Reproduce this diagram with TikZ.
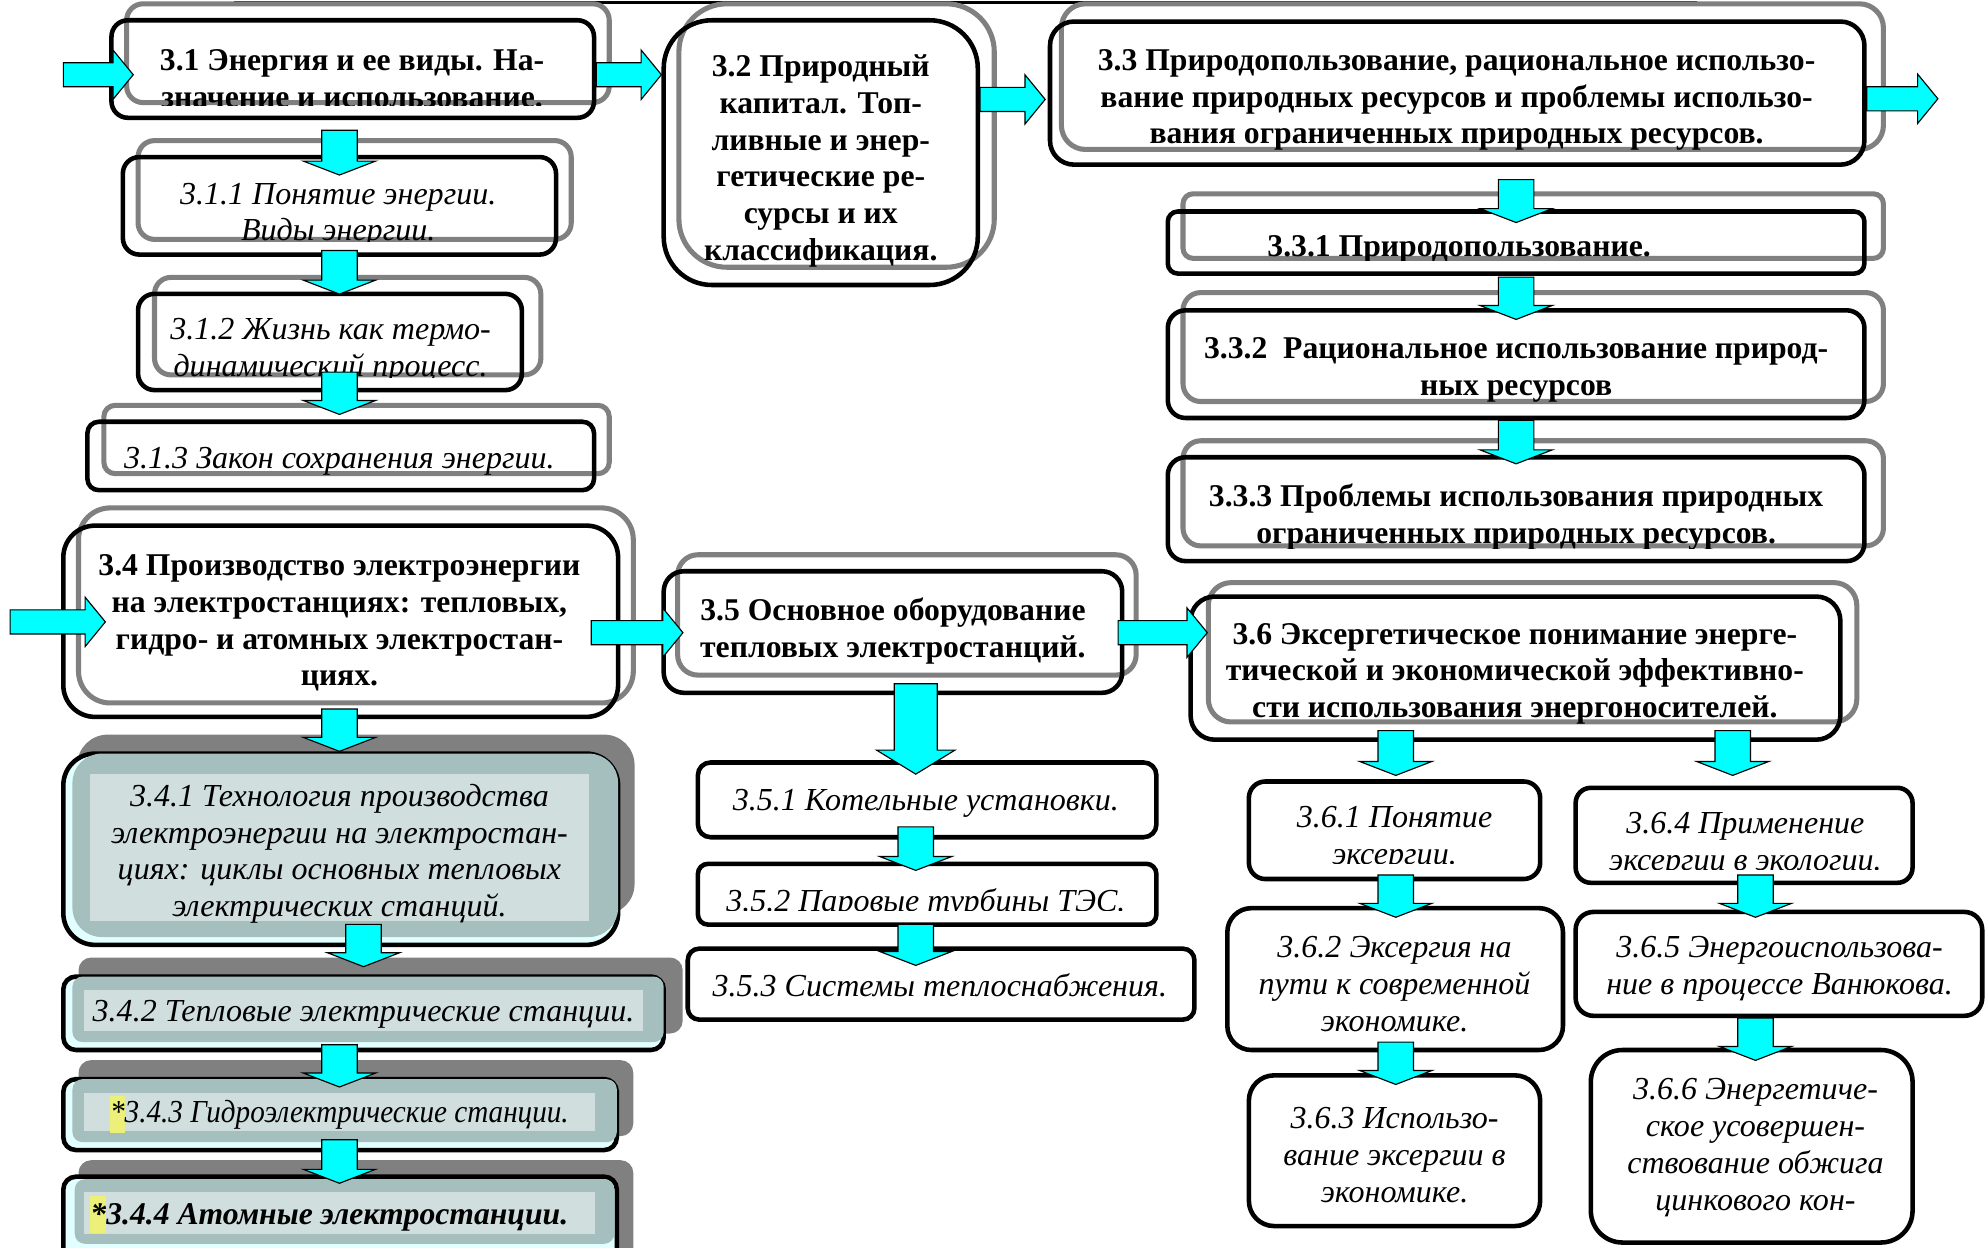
\documentclass[tikz,border=0pt]{standalone}
\usepackage{fontspec}
\setmainfont{Liberation Serif}
\usepackage{graphicx}
\usetikzlibrary{calc,fit}

\definecolor{frame}{RGB}{128,128,128}
\definecolor{arrowcyan}{RGB}{0,255,255}
\definecolor{shade}{RGB}{128,128,128}
\definecolor{tealfill}{RGB}{165,190,190}
\definecolor{panel}{RGB}{208,222,222}
\definecolor{paleblue}{RGB}{226,255,255}
\definecolor{marker}{RGB}{236,240,120}

\tikzset{
  bbox/.style={draw=black, line width=3.6pt, inner sep=0pt, rounded corners=#1},
  gframe/.style={draw=frame, line width=4pt, inner sep=0pt, rounded corners=#1},
  shadowbox/.style={fill=shade, inner sep=0pt, rounded corners=#1},
  headtext/.style={align=center, inner sep=0pt, yshift=-2pt, font=\fontsize{25}{29}\selectfont\bfseries},
  subtext/.style={align=center, inner sep=0pt, yshift=-2pt, font=\fontsize{25.3}{29}\selectfont\itshape},
  blockarrow/.style={fill=arrowcyan, draw=black, line width=0.9pt, line join=miter},
}

% highlighted asterisk in front of a heading
\newcommand\starmark[2]{{\setlength{\fboxsep}{0pt}\colorbox{marker}{\rule[-#1]{0pt}{#2}*}}}

% vertical block arrow: start, tip, half shaft, half head, head length
\newcommand\vblock[5]{%
  \filldraw[blockarrow] let \p1=(#1), \p2=(#2) in
    (\x1-#3,\y1) -- (\x1+#3,\y1) -- (\x1+#3,\y2+#5) -- (\x1+#4,\y2+#5)
    -- (\x1,\y2) -- (\x1-#4,\y2+#5) -- (\x1-#3,\y2+#5) -- cycle;}
% horizontal block arrow: start, tip, half shaft, half head, head length
\newcommand\hblock[5]{%
  \filldraw[blockarrow] let \p1=(#1), \p2=(#2) in
    (\x1,\y1+#3) -- (\x2-#5,\y1+#3) -- (\x2-#5,\y1+#4) -- (\x2,\y1)
    -- (\x2-#5,\y1-#4) -- (\x2-#5,\y1-#3) -- (\x1,\y1-#3) -- cycle;}
\newcommand\flowdown[2]{\vblock{#1}{#2}{14pt}{28.5pt}{11pt}}
\newcommand\flowright[2]{\hblock{#1}{#2}{9.5pt}{19.5pt}{16pt}}

\begin{document}
\begin{tikzpicture}[x=1pt,y=-1pt]
\clip (0,0) rectangle (1568,985);
\fill[white] (0,0) rectangle (1568,985);

% rule along the upper edge
\fill[black] (185,0.5) rectangle (1340,3.2);

% ---- grey text frames ----
\node[gframe=13pt, fit={(100,3) (481,81)}] (g31) {};
\node[gframe=13pt, fit={(109,111) (451,189)}] (g311) {};
\node[gframe=13pt, fit={(122,219) (427,296)}] (g312) {};
\node[gframe=9pt, fit={(82,320) (481,374)}] (g313) {};
\node[gframe=38pt, fit={(536,3) (785,211)}] (g32) {};
\node[gframe=19pt, fit={(838,3) (1487,118)}] (g33) {};
\node[gframe=8pt, fit={(934,153) (1487,204)}] (g331) {};
\node[gframe=14pt, fit={(934,231) (1487,317)}] (g332) {};
\node[gframe=14pt, fit={(934,348) (1487,431)}] (g333) {};
\node[gframe=25pt, fit={(62,401) (500,555)}] (g34) {};
\node[gframe=16pt, fit={(535,438) (897,533)}] (g35) {};
\node[gframe=18pt, fit={(954,460) (1466,570)}] (g36) {};

% ---- black boxes ----
\node[bbox=13pt, fit={(88,16) (469,93)}] (b31) {};
\node[bbox=13pt, fit={(97,124) (439,201)}] (b311) {};
\node[bbox=13pt, fit={(109,232) (412,308)}] (b312) {};
\node[bbox=9pt, fit={(69,333) (469,387)}] (b313) {};
\node[bbox=38pt, fit={(524,16) (772,225)}] (b32) {};
\node[bbox=19pt, fit={(829,17) (1472,130)}] (b33) {};
\node[bbox=8pt, fit={(922,167) (1472,216)}] (b331) {};
\node[bbox=14pt, fit={(922,245) (1472,330)}] (b332) {};
\node[bbox=14pt, fit={(922,361) (1472,443)}] (b333) {};
\node[bbox=25pt, fit={(50,415) (488,566)}] (b34) {};
\node[bbox=16pt, fit={(524,451) (886,547)}] (b35) {};
\node[bbox=19pt, fit={(940,471) (1453,584)}] (b36) {};
\node[bbox=10pt, fit={(551,602) (913,661)}] (b351) {};
\node[bbox=8pt, fit={(551,682) (913,730)}] (b352) {};
\node[bbox=9pt, fit={(543,749) (943,805)}] (b353) {};
\node[bbox=13pt, fit={(986,617) (1216,694)}] (b361) {};
\node[bbox=19pt, fit={(969,717) (1234,829)}] (b362) {};
\node[bbox=20pt, fit={(986,849) (1216,968)}] (b363) {};
\node[bbox=12pt, fit={(1244,622) (1510,697)}] (b364) {};
\node[bbox=14pt, fit={(1244,720) (1565,802)}] (b365) {};
\node[bbox=25pt, fit={(1256,829) (1510,981)}] (b366) {};

% ---- shaded boxes of 3.4 ----
\node[shadowbox=24pt, fit={(61,580) (501,722)}] (s341) {};
\node[bbox=25pt, fill=paleblue, fit={(50,595) (488,746)}] (b341) {};
\fill[tealfill, rounded corners=23pt] ([shift={(9,1.8)}]b341.north west) rectangle ([shift={(-1.8,-8)}]b341.south east);
\fill[panel] (71,611) rectangle (465,727);

\node[shadowbox=10pt, fit={(62,756) (539,816)}] (s342) {};
\node[bbox=10pt, fill=paleblue, fit={(50,771) (524,829)}] (b342) {};
\fill[tealfill, rounded corners=8pt] ([shift={(9,1.8)}]b342.north west) rectangle ([shift={(-1.8,-8)}]b342.south east);
\fill[panel] (66,782) rectangle (508,814);

\node[shadowbox=10pt, fit={(62,837) (500,897)}] (s343) {};
\node[bbox=10pt, fill=paleblue, fit={(50,852) (487,908)}] (b343) {};
\fill[tealfill, rounded corners=8pt] ([shift={(9,1.8)}]b343.north west) rectangle ([shift={(-1.8,-8)}]b343.south east);
\fill[panel] (66,863) rectangle (470,893);

\node[shadowbox=10pt, fit={(62,916) (500,995)}] (s344) {};
\node[bbox=10pt, fill=paleblue, fit={(50,929) (487,1000)}] (b344) {};
\fill[tealfill, rounded corners=8pt] (59,931) rectangle (485,982);
\fill[panel] (66,941) rectangle (470,974);

% ---- texts ----
\begin{scope}
  \clip (g31.south west) rectangle (g31.north east);
  \node[headtext] (t31) at (278,60) {3.1 Энергия и ее виды. На-\\значение и использование.};
\end{scope}
\begin{scope}
  \clip (g311.south west) rectangle (g311.north east);
  \node[subtext] (t311) at (267,168) {3.1.1 Понятие энергии.\\Виды энергии.};
\end{scope}
\begin{scope}
  \clip (g312.south west) rectangle (g312.north east);
  \node[subtext] (t312) at (261,275) {3.1.2 Жизнь как термо-\\динамический процесс.};
\end{scope}
\node[subtext] (t313) at (268,362) {3.1.3 Закон сохранения энергии.};
\node[headtext] (t32) at (648,125) {3.2 Природный\\капитал. Топ-\\ливные и энер-\\гетические ре-\\сурсы и их\\классификация.};
\begin{scope}
  \clip (g33.south west) rectangle (g33.north east);
  \node[headtext] (t33) at (1150,77) {3.3 Природопользование, рациональное использо-\\вание природных ресурсов и проблемы использо-\\вания ограниченных природных ресурсов.};
\end{scope}
\begin{scope}
  \clip (g331.south west) rectangle (g331.north east);
  \node[headtext] (t331) at (1152,195) {3.3.1 Природопользование.};
\end{scope}
\node[headtext] (t332) at (1197,290) {3.3.2\ \ Рациональное использование природ-\\ных ресурсов};
\begin{scope}
  \clip (g333.south west) rectangle (g333.north east);
  \node[headtext] (t333) at (1197,406) {3.3.3 Проблемы использования природных\\ограниченных природных ресурсов.};
\end{scope}
\node[headtext] (t34) at (268,490) {3.4 Производство электроэнергии\\на электростанциях: тепловых,\\гидро- и атомных электростан-\\циях.};
\node[subtext] (t341) at (268,672) {3.4.1 Технология производства\\электроэнергии на электростан-\\циях: циклы основных тепловых\\электрических станций.};
\node[subtext] (t342) at (287,799) {3.4.2 Тепловые электрические станции.};
\node[subtext] (t343) at (268,878) {\scalebox{0.91}[1]{\starmark{8.5pt}{29pt}3.4.3 Гидроэлектрические станции.}};
\node[subtext, font=\fontsize{25}{29}\selectfont\bfseries\itshape] (t344) at (260,957) {\starmark{7pt}{29pt}3.4.4 Атомные электростанции.};
\node[headtext] (t35) at (705,496) {3.5 Основное оборудование\\тепловых электростанций.};
\node[subtext] (t351) at (731,632) {3.5.1 Котельные установки.};
\begin{scope}
  \clip (b352.north west) rectangle ([shift={(0,-13)}]b352.south east);
  \node[subtext] (t352) at (731,711) {3.5.2 Паровые турбины ТЭС.};
\end{scope}
\node[subtext] (t353) at (742,776) {3.5.3 Системы теплоснабжения.};
\node[headtext] (t36) at (1196,530) {3.6 Эксергетическое понимание энерге-\\тической и экономической эффективно-\\сти использования энергоносителей.};
\begin{scope}
  \clip (b361.north west) rectangle ([shift={(0,-14)}]b361.south east);
  \node[subtext] (t361) at (1101,660) {3.6.1 Понятие\\эксергии.};
\end{scope}
\node[subtext] (t362) at (1101,775) {3.6.2 Эксергия на\\пути к современной\\экономике.};
\node[subtext] (t363) at (1101,910) {3.6.3 Использо-\\вание эксергии в\\экономике.};
\begin{scope}
  \clip (b364.north west) rectangle ([shift={(0,-12)}]b364.south east);
  \node[subtext] (t364) at (1378,665) {3.6.4 Применение\\эксергии в экологии.};
\end{scope}
\node[subtext] (t365) at (1405,763) {3.6.5 Энергоиспользова-\\ние в процессе Ванюкова.};
\node[subtext] (t366) at (1386,904) {3.6.6 Энергетиче-\\ское усовершен-\\ствование обжига\\цинкового кон-};

% ---- connectors ----
\coordinate (in31) at (50,59);
\coordinate (in34) at (8,491);
\coordinate (out33) at (1530,78);

\flowright{in31}{[shift={(19,0)}]b31.west}
\flowright{[shift={(0,4.5)}]b31.east}{b32.west}
\flowright{[shift={(0,-42)}]b32.east}{[shift={(-2,0)}]b33.west}
\flowright{[shift={(0,4.5)}]b33.east}{out33}
\flowright{in34}{[shift={(35,0)}]b34.west}
\flowright{[shift={(-23,9)}]b34.east}{[shift={(17,0)}]b35.west}
\flowright{[shift={(-5,0.5)}]b35.east}{[shift={(15,0)}]b36.west}

\flowdown{[shift={(-10.5,8)}]b31.south}{[shift={(0,16)}]b311.north}
\flowdown{[shift={(0,-5)}]b311.south}{[shift={(0,2)}]b312.north}
\flowdown{[shift={(7.5,-16)}]b312.south}{[shift={(0,-4)}]b313.north}
\flowdown{[shift={(-1,-8)}]b34.south}{b341.north}
\flowdown{[shift={(18,-18)}]b341.south}{[shift={(0,-6)}]b342.north}
\flowdown{[shift={(-19,-6)}]b342.south}{[shift={(0,8)}]b343.north}
\flowdown{[shift={(-0.5,-10)}]b343.south}{[shift={(0,7)}]b344.north}

\flowdown{[shift={(46.5,10)}]b33.south}{[shift={(0,10.5)}]b331.north}
\flowdown{[shift={(0,1)}]b331.south}{[shift={(0,9)}]b332.north}
\flowdown{b332.south}{[shift={(0,7)}]b333.north}

\vblock{[shift={(18,-9)}]b35.south}{[shift={(0,11)}]b351.north}{17pt}{31pt}{19pt}
\flowdown{[shift={(-9,-10)}]b351.south}{[shift={(0,7)}]b352.north}
\flowdown{[shift={(-9,-2)}]b352.south}{[shift={(0,15)}]b353.north}

\flowdown{[shift={(-94.5,-9)}]b36.south}{[shift={(0,-3)}]b361.north}
\flowdown{[shift={(171.5,-9)}]b36.south}{[shift={(0,-8)}]b364.north}
\flowdown{[shift={(1,-5)}]b361.south}{[shift={(0,9)}]b362.north}
\flowdown{[shift={(0.5,-8)}]b362.south}{[shift={(0,9)}]b363.north}
\flowdown{[shift={(9,-8)}]b364.south}{[shift={(0,6)}]b365.north}
\flowdown{[shift={(-18.5,0)}]b365.south}{[shift={(0,10)}]b366.north}
\end{tikzpicture}
\end{document}
